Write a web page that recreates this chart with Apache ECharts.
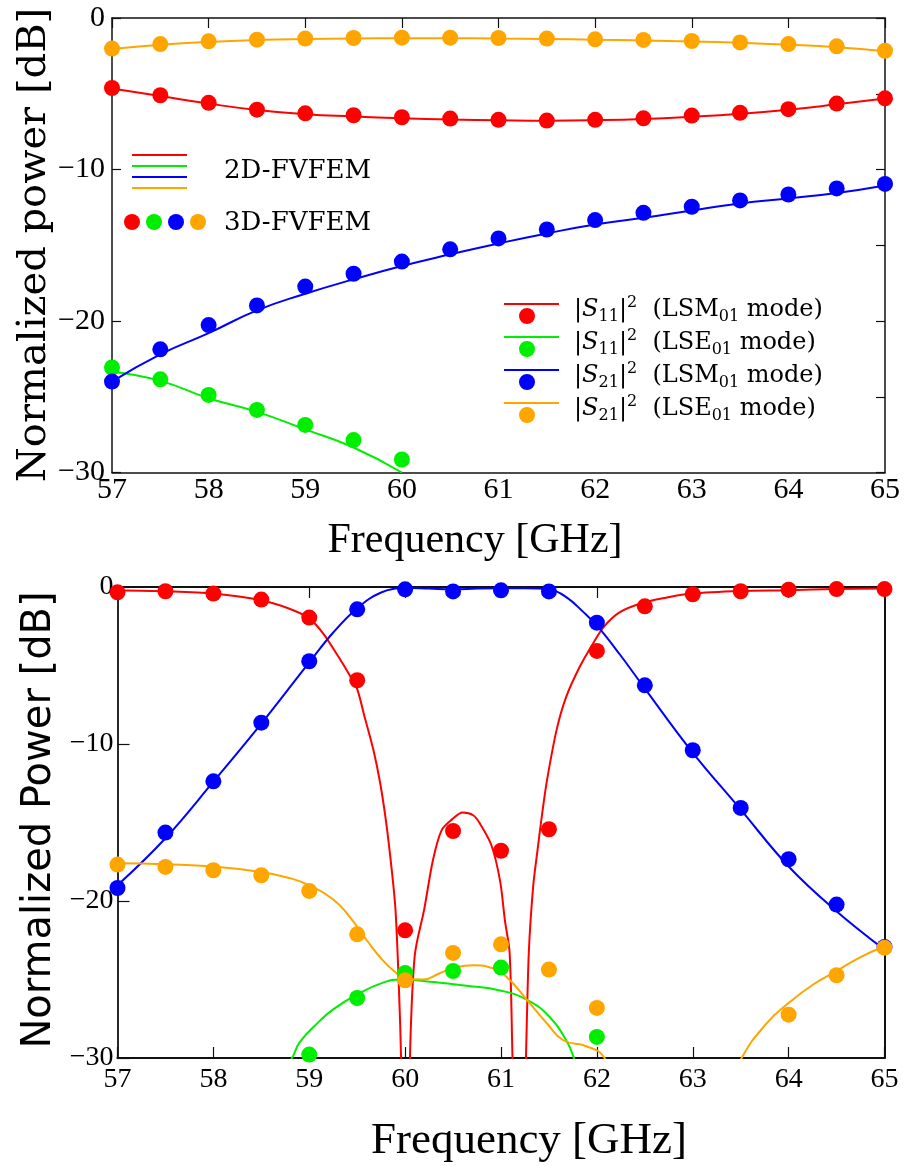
<!DOCTYPE html>
<html><head><meta charset="utf-8">
<script src="https://cdn.jsdelivr.net/npm/echarts@6/dist/echarts.min.js"></script>
<style>html,body{margin:0;padding:0;background:#fff}#c{width:906px;height:1166px}</style>
</head><body><div id="c"></div>
<script>
// ---------- DATA ----------
const freq = [57,57.5,58,58.5,59,59.5,60,60.5,61,61.5,62,62.5,63,63.5,64,64.5,65];

// Top panel: 3D-FVFEM markers
const topS11LSM_pts = [-4.62,-5.10,-5.60,-6.05,-6.29,-6.42,-6.55,-6.64,-6.72,-6.77,-6.72,-6.62,-6.44,-6.26,-6.02,-5.65,-5.30];
const topS21LSE_pts = [-2.02,-1.72,-1.54,-1.43,-1.36,-1.32,-1.30,-1.30,-1.32,-1.36,-1.41,-1.45,-1.52,-1.61,-1.72,-1.87,-2.16];
const topS21LSM_pts = [-24.0,-21.87,-20.27,-18.97,-17.73,-16.88,-16.08,-15.27,-14.55,-13.96,-13.34,-12.86,-12.46,-12.04,-11.65,-11.25,-10.95];
const topS11LSE_freq = [57,57.5,58,58.5,59,59.5,60];
const topS11LSE_pts = [-23.07,-23.85,-24.88,-25.87,-26.86,-27.86,-29.14];
// Top panel: 2D-FVFEM curves
const topS11LSM_line = [-4.65,-5.15,-5.65,-6.07,-6.35,-6.5,-6.62,-6.7,-6.75,-6.78,-6.75,-6.67,-6.52,-6.32,-6.05,-5.7,-5.32];
const topS21LSE_line = [-2.05,-1.76,-1.58,-1.46,-1.39,-1.35,-1.33,-1.33,-1.35,-1.38,-1.43,-1.48,-1.55,-1.64,-1.76,-1.93,-2.2];
const topS21LSM_line = [-24.0,-22.2,-20.8,-19.3,-18.2,-17.25,-16.37,-15.6,-14.88,-14.22,-13.63,-13.19,-12.7,-12.24,-11.91,-11.55,-11.05];
const topS11LSE_line = [-23.35,-23.95,-25.1,-26.0,-27.15,-28.35,-30.0];

// Bottom panel: 3D-FVFEM markers
const botS11LSM_pts = [-0.34,-0.27,-0.42,-0.80,-1.95,-5.94,-21.87,-15.54,-16.8,-15.43,-4.07,-1.23,-0.46,-0.27,-0.17,-0.13,-0.13];
const botS21LSM_pts = [-19.17,-15.64,-12.38,-8.64,-4.73,-1.42,-0.15,-0.28,-0.21,-0.28,-2.27,-6.26,-10.4,-14.07,-17.34,-20.23,-22.93];
const botS11LSE_freq = [59,59.5,60,60.5,61,62];
const botS11LSE_pts = [-29.78,-26.18,-24.58,-24.46,-24.24,-28.66];
const botS21LSE_freq = [57,57.5,58,58.5,59,59.5,60,60.5,61,61.5,62,64,64.5,65];
const botS21LSE_pts = [-17.68,-17.83,-18.04,-18.36,-19.36,-22.12,-25.05,-23.31,-22.76,-24.37,-26.81,-27.24,-24.73,-22.97];

// Bottom panel: 2D-FVFEM curves
const botS11LSM_lf = [57.0,57.5,58.0,58.5,58.8,59.0,59.15,59.3,59.42,59.5,59.57,59.67,59.74,59.8,59.86,59.9,59.935,59.96,60.0,60.05,60.1,60.2,60.29,60.38,60.49,60.6,60.71,60.78,60.9,60.99,61.04,61.09,61.12,61.19,61.26,61.29,61.335,61.38,61.43,61.48,61.58,61.68,61.82,61.96,62.07,62.24,62.48,62.72,62.98,63.5,64.0,64.5,65.0];
const botS11LSM_lv = [-0.2,-0.27,-0.42,-0.85,-1.4,-2.0,-3.0,-4.4,-5.6,-6.5,-8.1,-10.4,-12.5,-14.9,-18.0,-20.6,-25.5,-30.5,-45,-30,-23.5,-20.5,-17.4,-15.5,-14.8,-14.37,-14.54,-15.07,-16.45,-18.7,-21.2,-23.3,-30,-45,-30,-23.3,-19.1,-16.8,-14.4,-12.3,-9.1,-7.0,-5.1,-3.6,-2.55,-1.6,-1.0,-0.68,-0.42,-0.25,-0.2,-0.12,-0.1];
const botS21LSM_lf = [57,57.5,58,58.5,59,59.25,59.5,59.75,60,60.25,60.5,60.75,61,61.25,61.5,61.68,61.86,62,62.24,62.48,62.98,63.49,64,64.49,65];
const botS21LSM_lv = [-19.0,-16.0,-12.4,-8.7,-4.8,-2.9,-1.35,-0.35,-0.05,-0.1,-0.15,-0.1,-0.08,-0.08,-0.15,-0.64,-1.6,-2.45,-4.3,-6.3,-10.4,-14.1,-17.8,-20.6,-23.1];
const botS21LSE_lf = [57,57.5,58,58.5,58.77,59.0,59.25,59.42,59.6,59.77,59.91,60.0,60.19,60.36,60.54,60.71,60.92,61.06,61.27,61.48,61.65,61.89,62.08,62.3,62.8,63.2,63.51,63.77,64.0,64.26,64.49,64.74,65];
const botS21LSE_lv = [-17.6,-17.66,-17.8,-18.15,-18.5,-19.0,-19.9,-21.0,-22.5,-23.8,-24.6,-24.95,-25.0,-24.6,-24.2,-24.1,-24.3,-24.84,-26.3,-27.8,-28.87,-29.25,-30,-33,-36,-34,-30,-27.8,-26.5,-25.3,-24.5,-23.6,-22.9];
const botS11LSE_lf = [58.5,58.82,58.9,59.1,59.25,59.5,59.77,59.95,60.29,60.64,60.99,61.27,61.51,61.68,61.76,61.9];
const botS11LSE_lv = [-33,-30,-29.0,-27.7,-26.9,-25.95,-25.2,-25.0,-25.16,-25.4,-25.7,-26.3,-27.4,-28.87,-30,-33];

// ---------- BUILD ----------
const pairs = (xs, ys) => xs.map((x, i) => [x, ys[i]]);
const C = {S11_LSM:'#ff0000', S11_LSE:'#00ee00', S21_LSM:'#0000ff', S21_LSE:'#ffa500'};
const legendLabel = {
  S11_LSM: ['11','LSM'], S11_LSE: ['11','LSE'], S21_LSM: ['21','LSM'], S21_LSE: ['21','LSE']
};
const minus = v => v === 0 ? '0' : (v < 0 ? '\u2212' + Math.abs(v) : String(v));

function lineS(name, data, xi, yi, smooth) {
  return {type:'line', name, data, xAxisIndex:xi, yAxisIndex:yi, showSymbol:false, symbol:'none',
    smooth: smooth, clip:true, z:2, color:C[name], lineStyle:{color:C[name], width:2}, animation:false};
}
function dotS(name, data, xi, yi) {
  return {type:'scatter', name, data, xAxisIndex:xi, yAxisIndex:yi, symbol:'circle', symbolSize:16,
    z:3, color:C[name], itemStyle:{color:C[name], opacity:1}, animation:false};
}

const SERIF = '"Liberation Serif", "Times New Roman", serif';
const DSERIF = '"DejaVu Serif", serif';
const axisLineStyle = w => ({show:true, onZero:false, lineStyle:{color:'#111', width:w}});
const tick = len => ({show:true, inside:true, length:len, lineStyle:{color:'#111', width:1.2}});

const option = {
  backgroundColor:'#fff',
  animation:false,
  textStyle:{fontFamily:SERIF},
  grid:[
    {left:112, top:18, width:773, height:454.5, containLabel:false, outerBoundsMode:'none'},
    {left:117.5, top:587, width:767, height:471, containLabel:false, outerBoundsMode:'none'}
  ],
  xAxis:[
    {type:'value', gridIndex:0, min:57, max:65, interval:1, position:'bottom',
     axisLine:axisLineStyle(1.5), axisTick:{show:false}, splitLine:{show:false},
     axisLabel:{fontFamily:SERIF, fontSize:30, color:'#000', margin:3}},
    {type:'value', gridIndex:0, min:57, max:65, interval:1, position:'top',
     axisLine:axisLineStyle(1.5), axisTick:tick(10), axisLabel:{show:false}, splitLine:{show:false}},
    {type:'value', gridIndex:1, min:57, max:65, interval:1, position:'bottom',
     axisLine:axisLineStyle(2.2), axisTick:tick(11), splitLine:{show:false},
     axisLabel:{fontFamily:SERIF, fontSize:28, color:'#000', margin:8}},
    {type:'value', gridIndex:1, min:57, max:65, interval:1, position:'top',
     axisLine:axisLineStyle(2), axisTick:tick(11), axisLabel:{show:false}, splitLine:{show:false}}
  ],
  yAxis:[
    {type:'value', gridIndex:0, min:-30, max:0, interval:10, position:'left',
     axisLine:axisLineStyle(1.5), axisTick:tick(9), splitLine:{show:false},
     axisLabel:{fontFamily:SERIF, fontSize:30, color:'#000', margin:7, formatter:minus}},
    {type:'value', gridIndex:0, min:-30, max:0, interval:5, position:'right',
     axisLine:axisLineStyle(1.5), axisTick:tick(9), axisLabel:{show:false}, splitLine:{show:false}},
    {type:'value', gridIndex:1, min:-30, max:0, interval:10, position:'left',
     axisLine:axisLineStyle(1.8), axisTick:tick(12), splitLine:{show:false},
     axisLabel:{fontFamily:SERIF, fontSize:28, color:'#000', margin:4, formatter:minus}},
    {type:'value', gridIndex:1, min:-30, max:0, interval:10, position:'right',
     axisLine:axisLineStyle(2), axisTick:{show:false}, axisLabel:{show:false}, splitLine:{show:false}}
  ],
  legend:{
    orient:'vertical', left:504, top:295, padding:0, itemGap:3,
    itemWidth:55, itemHeight:28, itemStyle:{borderWidth:0},
    icon:'path://M0,-7L0.01,-7L0.01,-6.99ZM0,0L55,0L55,2L0,2ZM15,13A8,8 0 1,0 31,13A8,8 0 1,0 15,13Z',
    data:['S11_LSM','S11_LSE','S21_LSM','S21_LSE'],
    formatter: function(name){
      const l = legendLabel[name];
      return '{g| }{n||}{i|S}{sub|' + l[0] + '}{n||}{sup|2}{n|  (' + l[1] + '}{sub|01}{n| mode)}';
    },
    textStyle:{
      color:'#000',
      rich:{
        g:{width:10, fontSize:10},
        n:{fontFamily:DSERIF, fontSize:24, lineHeight:30, color:'#000'},
        i:{fontFamily:DSERIF, fontStyle:'italic', fontSize:24, lineHeight:30, color:'#000'},
        sub:{fontFamily:DSERIF, fontSize:16, lineHeight:14, verticalAlign:'bottom', color:'#000'},
        sup:{fontFamily:DSERIF, fontSize:16, lineHeight:14, verticalAlign:'top', color:'#000'}
      }
    }
  },
  graphic:[
    {type:'text', x:475, y:541, style:{text:'Frequency [GHz]', font:'42px ' + SERIF, fill:'#000', align:'center', verticalAlign:'middle'}},
    {type:'text', x:529, y:1141, style:{text:'Frequency [GHz]', font:'45px ' + SERIF, fill:'#000', align:'center', verticalAlign:'middle'}},
    {type:'text', x:35, y:245, rotation:Math.PI/2, style:{text:'Normalized power [dB]', font:'40px ' + DSERIF, fill:'#000', align:'center', verticalAlign:'middle'}},
    {type:'text', x:40, y:820, rotation:Math.PI/2, style:{text:'Normalized Power [dB]', font:'40px "DejaVu Sans", sans-serif', fill:'#000', align:'center', verticalAlign:'middle'}},
    // method key
    {type:'line', shape:{x1:132, y1:155, x2:187, y2:155}, style:{stroke:C.S11_LSM, lineWidth:2}},
    {type:'line', shape:{x1:132, y1:166, x2:187, y2:166}, style:{stroke:C.S11_LSE, lineWidth:2}},
    {type:'line', shape:{x1:132, y1:177, x2:187, y2:177}, style:{stroke:C.S21_LSM, lineWidth:2}},
    {type:'line', shape:{x1:132, y1:188, x2:187, y2:188}, style:{stroke:C.S21_LSE, lineWidth:2}},
    {type:'text', x:224, y:171, style:{text:'2D-FVFEM', font:'26px ' + DSERIF, fill:'#000', verticalAlign:'middle'}},
    {type:'circle', shape:{cx:132, cy:222, r:8}, style:{fill:C.S11_LSM}},
    {type:'circle', shape:{cx:154, cy:222, r:8}, style:{fill:C.S11_LSE}},
    {type:'circle', shape:{cx:176, cy:222, r:8}, style:{fill:C.S21_LSM}},
    {type:'circle', shape:{cx:198, cy:222, r:8}, style:{fill:C.S21_LSE}},
    {type:'text', x:224, y:223, style:{text:'3D-FVFEM', font:'26px ' + DSERIF, fill:'#000', verticalAlign:'middle'}}
  ],
  series:[
    lineS('S11_LSM', pairs(freq, topS11LSM_line), 0, 0, true),
    lineS('S11_LSE', pairs(topS11LSE_freq, topS11LSE_line), 0, 0, true),
    lineS('S21_LSM', pairs(freq, topS21LSM_line), 0, 0, true),
    lineS('S21_LSE', pairs(freq, topS21LSE_line), 0, 0, true),
    dotS('S11_LSM', pairs(freq, topS11LSM_pts), 0, 0),
    dotS('S11_LSE', pairs(topS11LSE_freq, topS11LSE_pts), 0, 0),
    dotS('S21_LSM', pairs(freq, topS21LSM_pts), 0, 0),
    dotS('S21_LSE', pairs(freq, topS21LSE_pts), 0, 0),

    lineS('S11_LSM', pairs(botS11LSM_lf, botS11LSM_lv), 2, 2, 0.3),
    lineS('S11_LSE', pairs(botS11LSE_lf, botS11LSE_lv), 2, 2, true),
    lineS('S21_LSM', pairs(botS21LSM_lf, botS21LSM_lv), 2, 2, 0.4),
    lineS('S21_LSE', pairs(botS21LSE_lf, botS21LSE_lv), 2, 2, true),
    dotS('S11_LSM', pairs(freq, botS11LSM_pts), 2, 2),
    dotS('S11_LSE', pairs(botS11LSE_freq, botS11LSE_pts), 2, 2),
    dotS('S21_LSM', pairs(freq, botS21LSM_pts), 2, 2),
    dotS('S21_LSE', pairs(botS21LSE_freq, botS21LSE_pts), 2, 2)
  ]
};
const chart = echarts.init(document.getElementById('c'), null, {renderer:'canvas'});
chart.setOption(option);
</script>
</body></html>
